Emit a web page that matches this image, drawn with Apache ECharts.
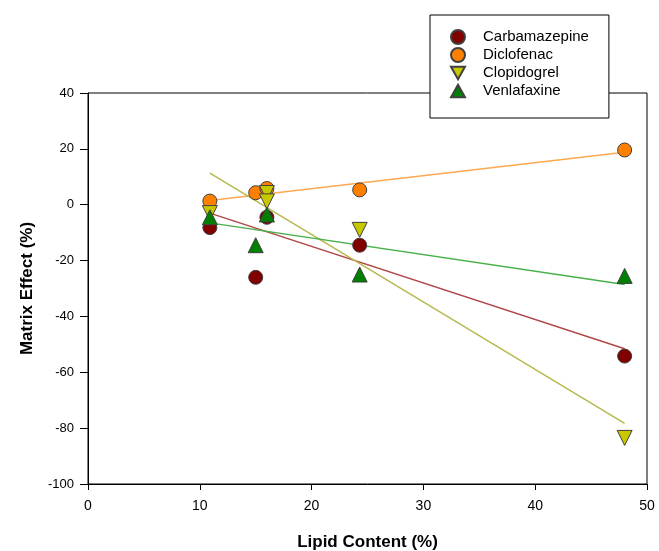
<!DOCTYPE html>
<html>
<head>
<meta charset="utf-8">
<script src="https://cdn.jsdelivr.net/npm/echarts@6/dist/echarts.min.js"></script>
<style>
  html, body { margin: 0; padding: 0; background: #ffffff; }
  #chart { width: 659px; height: 551px; }
</style>
</head>
<body>
<div id="chart"></div>
<script>
// lipid content (%) of each sample, and matrix effect (%) per compound
const carbaX = [10.9, 15, 16, 24.3, 48];
const carbaY = [-8.2, -26, -4.5, -14.5, -54.2];
const dicloX = [10.9, 15, 16, 24.3, 48];
const dicloY = [1.3, 4.3, 5.8, 5.3, 19.6];
const clopiX = [10.9, 16, 16, 24.3, 48];
const clopiY = [-3, 4.2, 1.2, -9, -83.5];
const venlaX = [10.9, 15, 16, 24.3, 48];
const venlaY = [-4.5, -14.5, -3.5, -25, -25.5];

// fitted trend lines, read at both ends
const fitX = [10.9, 48];
const carbaFit = [-3, -51.6];
const dicloFit = [1.5, 18.8];
const clopiFit = [11.3, -78.3];
const venlaFit = [-6.5, -28.6];

const names = ["Carbamazepine", "Diclofenac", "Clopidogrel", "Venlafaxine"];
const xTicks = [0, 10, 20, 30, 40, 50];
const yTicks = [-100, -80, -60, -40, -20, 0, 20, 40];

const triUp = "path://M5,0 L10,9 L0,9 Z";
const triDown = "path://M0,0 L10,0 L5,9 Z";

function pairs(xs, ys) {
  return xs.map((x, i) => [x, ys[i]]);
}

function dots(name, xs, ys, color, symbol, size) {
  return {
    name: name,
    type: "scatter",
    data: pairs(xs, ys),
    symbol: symbol,
    symbolSize: size,
    itemStyle: { color: color, borderColor: "#404040", borderWidth: 1, opacity: 1 },
    z: 3
  };
}

function trend(ys, color) {
  return {
    type: "line",
    data: pairs(fitX, ys),
    symbol: "none",
    lineStyle: { color: color, width: 1.5 },
    silent: true,
    z: 2
  };
}

const myChart = echarts.init(document.getElementById("chart"));
const option = {
  backgroundColor: "#ffffff",
  animation: false,
  textStyle: { fontFamily: "Liberation Sans, Arial, sans-serif" },
  grid: {
    left: 88,
    right: 12,
    top: 93,
    bottom: 67,
    outerBoundsMode: "none",
    containLabel: false,
    show: true,
    borderColor: "#000000",
    borderWidth: 1
  },
  legend: {
    data: [
      { name: names[0], icon: "circle" },
      { name: names[1], icon: "circle" },
      { name: names[2], icon: triDown },
      { name: names[3], icon: triUp }
    ],
    orient: "vertical",
    left: 430,
    top: 15,
    itemWidth: 14,
    itemHeight: 14,
    itemGap: 2,
    padding: [14, 20, 19, 20],
    backgroundColor: "#ffffff",
    borderColor: "#000000",
    borderWidth: 1,
    borderRadius: 0,
    textStyle: {
      fontSize: 15,
      lineHeight: 16,
      color: "#000000",
      padding: [0, 0, 0, 13],
      fontFamily: "Liberation Sans, Arial, sans-serif"
    },
    z: 10
  },
  xAxis: {
    type: "value",
    min: xTicks[0],
    max: xTicks[xTicks.length - 1],
    interval: 10,
    name: "Lipid Content (%)",
    nameLocation: "middle",
    nameGap: 50,
    nameTextStyle: { fontSize: 17, fontWeight: "bold", color: "#000000" },
    axisLine: { onZero: false, lineStyle: { color: "#000000", width: 1 } },
    axisTick: { show: true, inside: false, length: 6, lineStyle: { color: "#000000" } },
    axisLabel: { fontSize: 14, color: "#000000", margin: 15 },
    splitLine: { show: false }
  },
  yAxis: {
    type: "value",
    min: yTicks[0],
    max: yTicks[yTicks.length - 1],
    interval: 20,
    name: "Matrix Effect (%)",
    nameLocation: "middle",
    nameGap: 52,
    nameTextStyle: { fontSize: 17, fontWeight: "bold", color: "#000000" },
    axisLine: { show: true, onZero: false, lineStyle: { color: "#000000", width: 1 } },
    axisTick: { show: true, inside: false, length: 8, lineStyle: { color: "#000000" } },
    axisLabel: { fontSize: 13, color: "#000000", margin: 14 },
    splitLine: { show: false }
  },
  series: [
    trend(carbaFit, "#b04848"),
    trend(dicloFit, "#ffa850"),
    trend(clopiFit, "#b8b850"),
    trend(venlaFit, "#48b048"),
    dots(names[0], carbaX, carbaY, "#800000", "circle", 14),
    dots(names[1], dicloX, dicloY, "#ff8000", "circle", 14),
    dots(names[2], clopiX, clopiY, "#c8c800", triDown, 15),
    dots(names[3], venlaX, venlaY, "#008000", triUp, 15)
  ]
};
myChart.setOption(option);
window.addEventListener("resize", function () {
  myChart.resize();
});
</script>
</body>
</html>
